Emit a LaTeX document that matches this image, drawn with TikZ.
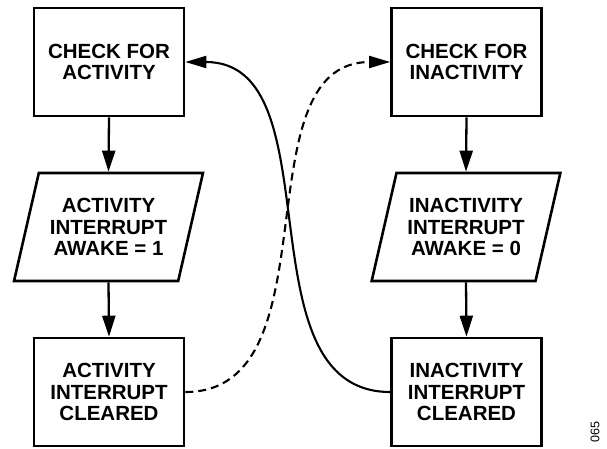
\documentclass[tikz,border=0pt]{standalone}
\usepackage{fontspec}
\setmainfont{Liberation Sans}
\usetikzlibrary{shapes.geometric,arrows.meta}
\begin{document}
\begin{tikzpicture}[x=1pt,y=-1pt,
  txt/.style={font=\bfseries\fontsize{20.5}{21.5}\selectfont, align=center},
  box/.style={txt, draw, line width=2.6pt, minimum width=150pt, minimum height=108pt, inner sep=0pt},
  para/.style={txt, draw, line width=2.6pt, trapezium, trapezium left angle=70, trapezium right angle=110, trapezium stretches=true, minimum width=189pt, minimum height=108pt, inner sep=0pt},
  flowarrow/.style={line width=2.3pt, -{Triangle[length=21pt,width=13pt]}},
  backarc/.style={line width=2.1pt, -{Triangle[length=21pt,width=12pt]}}]
\useasboundingbox (0,0) rectangle (607,449);
\node[box] (lt) at (109,62) {CHECK FOR\\ACTIVITY};
\node[para] (lp) at (108.5,227) {ACTIVITY\\INTERRUPT\\AWAKE = 1};
\node[box] (lb) at (109,392) {ACTIVITY\\INTERRUPT\\CLEARED};
\node[box] (rt) at (466.5,62) {CHECK FOR\\INACTIVITY};
\node[para] (rp) at (466,227) {INACTIVITY\\INTERRUPT\\AWAKE = 0};
\node[box] (rb) at (466.5,392) {INACTIVITY\\INTERRUPT\\CLEARED};
\draw[flowarrow] (lt.south) -- (lp.north);
\draw[flowarrow] (lp.south) -- (lb.north);
\draw[flowarrow] (rt.south) -- (rp.north);
\draw[flowarrow] (rp.south) -- (rb.north);
\draw[backarc] (rb.west) to[out=180,in=0] (lt.east);
\draw[backarc, dash pattern=on 8pt off 5pt] (lb.east) to[out=0,in=180] (rt.west);
\node[rotate=90, font=\fontsize{12.5}{13}\selectfont, inner sep=0pt] (fig) at (595,432) {065};
\end{tikzpicture}
\end{document}
